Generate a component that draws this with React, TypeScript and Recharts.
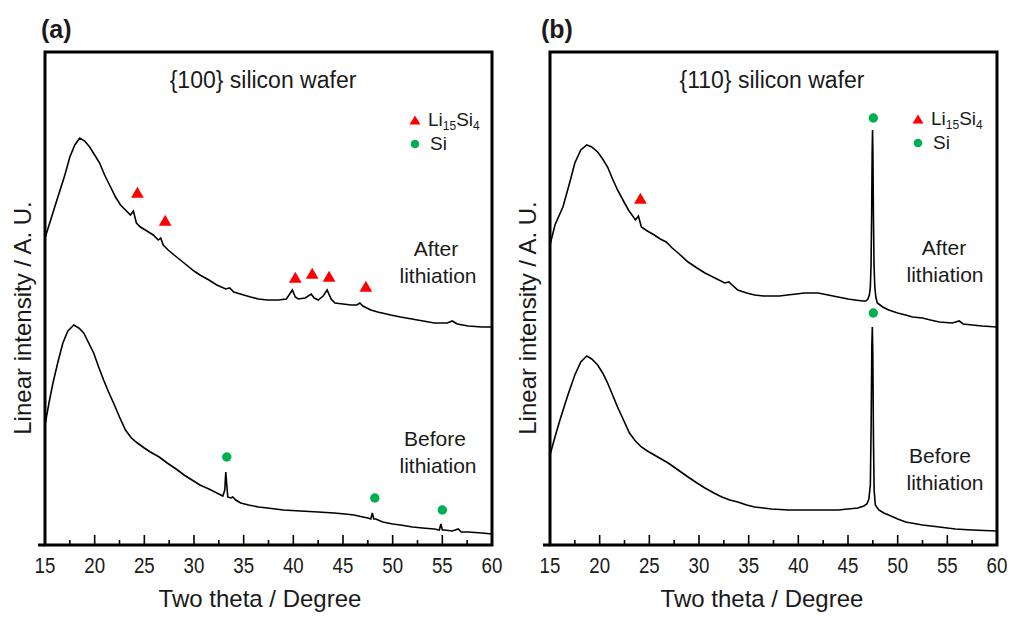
import React from "react";
import {
  ComposedChart,
  Line,
  Scatter,
  XAxis,
  YAxis,
  ZAxis,
  ReferenceArea,
} from "recharts";

// ---------- data (two theta in degrees, intensity in arbitrary units) ----------
const X_TICKS = [15, 17.5, 20, 22.5, 25, 27.5, 30, 32.5, 35, 37.5, 40, 42.5, 45, 47.5, 50, 52.5, 55, 57.5, 60];

const A_AFTER: [number, number][] = [
  [15, 307], [16.2, 345], [17.0, 370], [17.5, 388], [18.0, 400], [18.5, 407], [19.0, 404],
  [19.5, 398], [20.0, 390], [20.5, 382], [21.0, 370], [21.6, 358], [22.1, 348], [22.6, 340],
  [23.1, 335], [23.6, 330], [23.9, 334], [24.2, 322], [24.6, 318], [25.1, 315], [25.9, 310],
  [26.4, 305], [26.65, 307], [26.9, 300], [27.4, 295], [28.0, 290], [29.0, 282], [30.0, 274],
  [30.6, 270], [31.5, 265], [32.3, 260], [33.2, 256], [33.6, 257], [34.0, 253], [35.0, 250],
  [35.7, 248], [36.5, 246], [37.4, 245], [38.5, 245], [39.3, 246], [39.7, 252], [39.9, 255],
  [40.2, 248], [40.5, 246], [41.2, 247], [41.8, 251], [42.1, 247], [42.5, 245], [43.0, 249],
  [43.4, 255], [43.8, 246], [44.2, 242], [45.0, 241], [45.8, 240], [46.4, 240], [46.7, 242],
  [47.0, 239], [47.8, 235], [48.5, 233], [49.8, 230], [50.8, 228], [52.5, 225], [54.2, 222],
  [55.5, 222], [56.0, 224], [56.5, 221], [57.6, 219], [59.0, 218], [60, 218],
];

const A_BEFORE: [number, number][] = [
  [15, 120], [15.4, 142], [15.8, 162], [16.3, 183], [16.8, 202], [17.3, 214], [17.9, 220],
  [18.4, 217], [18.9, 212], [19.4, 202], [19.9, 192], [20.4, 178], [20.9, 165], [21.4, 153],
  [21.9, 142], [22.5, 128], [23.1, 115], [23.7, 107], [24.3, 102], [25.0, 97], [25.6, 93],
  [26.5, 88], [27.3, 82], [28.2, 76], [29.0, 70], [29.8, 65], [30.6, 60], [31.5, 56],
  [32.3, 52], [32.9, 49], [33.1, 55], [33.2, 73], [33.3, 60], [33.4, 48], [33.7, 47],
  [33.9, 48], [34.2, 45], [34.7, 42], [35.5, 40], [36.5, 38], [37.4, 37], [39.0, 35],
  [40.7, 34], [42.5, 33], [44.1, 32], [45.2, 31], [46.1, 30], [47.0, 28], [47.5, 27],
  [47.8, 26], [47.95, 32], [48.1, 26], [48.3, 26], [49.0, 23], [50.0, 21], [50.8, 20],
  [52.0, 18], [53.0, 17], [54.2, 16], [54.7, 15], [54.85, 21], [55.0, 15], [55.2, 15],
  [56.0, 14], [56.6, 16], [56.9, 13], [57.6, 13], [59.0, 12], [60, 11],
];

const B_AFTER: [number, number][] = [
  [15, 300], [15.5, 320], [16.3, 338], [17.0, 363], [17.5, 382], [18.1, 395], [18.7, 400],
  [19.2, 398], [19.8, 393], [20.3, 386], [20.8, 378], [21.3, 366], [21.8, 355], [22.4, 344],
  [22.9, 335], [23.6, 325], [23.9, 329], [24.2, 318], [24.8, 314], [25.5, 310], [26.1, 306],
  [26.7, 303], [27.3, 297], [27.9, 292], [28.9, 283], [29.8, 277], [30.6, 272], [31.6, 267],
  [32.6, 262], [33.0, 263], [33.9, 255], [34.8, 252], [35.6, 250], [36.5, 249], [37.3, 249],
  [38.1, 249], [38.9, 250], [39.8, 251], [40.6, 252], [41.3, 252], [42.0, 252], [43.0, 250],
  [44.0, 248], [45.0, 246], [45.7, 245], [46.5, 244], [46.8, 244], [47.0, 246], [47.15, 250],
  [47.25, 258], [47.32, 280], [47.38, 330], [47.43, 390], [47.47, 415], [47.51, 390],
  [47.56, 330], [47.62, 280], [47.7, 258], [47.8, 248], [47.95, 242], [48.5, 238],
  [49.1, 235], [50.0, 232], [50.8, 230], [51.5, 228], [52.5, 227], [53.3, 225], [54.2, 223],
  [55.5, 222], [56.2, 224], [56.6, 221], [57.5, 220], [58.5, 219], [60, 218],
];

const B_BEFORE: [number, number][] = [
  [15, 90], [15.5, 108], [16.0, 125], [16.8, 150], [17.5, 170], [18.1, 183], [18.7, 189],
  [19.2, 186], [19.8, 180], [20.3, 172], [20.8, 162], [21.3, 150], [21.8, 138], [22.4, 125],
  [23.0, 112], [23.6, 104], [24.2, 98], [24.8, 94], [25.5, 90], [26.2, 86], [26.9, 82],
  [27.9, 75], [28.9, 68], [29.8, 62], [30.6, 57], [31.5, 52], [32.3, 48], [33.1, 45],
  [33.9, 43], [34.8, 40], [35.6, 38], [36.5, 37], [37.3, 36], [39.0, 35], [40.6, 35],
  [42.5, 35], [44.0, 35], [45.0, 36], [46.0, 37], [46.6, 39], [46.9, 41], [47.1, 46],
  [47.25, 60], [47.33, 120], [47.4, 200], [47.45, 218], [47.5, 190], [47.56, 110],
  [47.63, 55], [47.75, 40], [48.1, 35], [48.6, 32], [49.1, 30], [50.0, 26], [50.8, 23],
  [52.5, 20], [54.2, 18], [55.8, 16], [57.5, 15], [60, 14],
];

const A_LI_MARKS: [number, number][] = [[24.3, 351], [27.1, 323], [40.2, 266], [41.9, 270], [43.6, 267], [47.3, 257]];
const A_SI_MARKS: [number, number][] = [[33.3, 88], [48.2, 47], [55.0, 35]];
const B_LI_MARKS: [number, number][] = [[24.1, 345]];
const B_SI_MARKS: [number, number][] = [[47.55, 427], [47.55, 232]];

const Y_MAX = 493;
const FONT = '"Liberation Sans", Arial, Helvetica, sans-serif';
const RED = "#ff0000";
const GREEN = "#00b050";

const toPts = (arr: [number, number][]) => arr.map(([x, y]) => ({ x, y }));

// custom tick: receives the axis line position as y (tickSize=0, tickMargin=0)
function renderXTick(props: any) {
  const { x, y, payload } = props;
  const v = payload.value as number;
  const major = Math.abs(v % 5) < 1e-9;
  return (
    <g key={`t-${v}`}>
      <line x1={x} x2={x} y1={y - 1} y2={y - (major ? 10 : 5)} stroke="#000" strokeWidth={1.6} />
      {major ? (
        <text
          x={0}
          y={0}
          transform={`translate(${x},${y + 28}) scale(0.85,1)`}
          textAnchor="middle"
          fontSize={22}
          fontFamily={FONT}
          fill="#1a1a1a"
        >
          {v}
        </text>
      ) : null}
    </g>
  );
}

type PanelProps = {
  left: number;
  width: number;
  after: [number, number][];
  before: [number, number][];
  li: [number, number][];
  si: [number, number][];
  rightMargin: number;
};

function Panel({ left, width, after, before, li, si, rightMargin }: PanelProps) {
  return (
    <div style={{ position: "absolute", left, top: 0, width, height: 619 }}>
      <ComposedChart
        width={width}
        height={619}
        margin={{ top: 52, right: rightMargin, left: 37, bottom: 44 }}
      >
        <XAxis
          dataKey="x"
          type="number"
          domain={[15, 60]}
          ticks={X_TICKS}
          interval={0}
          allowDataOverflow
          height={30}
          tickSize={0}
          tickMargin={0}
          tickLine={false}
          axisLine={false}
          tick={renderXTick}
        />
        <YAxis
          dataKey="y"
          type="number"
          domain={[0, Y_MAX]}
          ticks={[0]}
          interval={0}
          allowDataOverflow
          width={8}
          tickSize={7}
          tickMargin={0}
          axisLine={false}
          tickLine={{ stroke: "#000", strokeWidth: 3 }}
          tick={{ fontSize: 1, fill: "none" }}
          tickFormatter={() => " "}
        />
        <ZAxis range={[70, 70]} />
        <ReferenceArea x1={15} x2={60} y1={0} y2={Y_MAX} fill="none" stroke="#000" strokeWidth={3} />
        <Line data={toPts(after)} dataKey="y" type="linear" stroke="#000" strokeWidth={1.6} dot={false} isAnimationActive={false} />
        <Line data={toPts(before)} dataKey="y" type="linear" stroke="#000" strokeWidth={1.6} dot={false} isAnimationActive={false} />
        <Scatter data={toPts(li)} dataKey="y" shape="triangle" fill={RED} isAnimationActive={false} />
        <Scatter data={toPts(si)} dataKey="y" shape="circle" fill={GREEN} isAnimationActive={false} />
      </ComposedChart>
    </div>
  );
}

const txt = (style: React.CSSProperties): React.CSSProperties => ({
  position: "absolute",
  fontFamily: FONT,
  color: "#1a1a1a",
  whiteSpace: "nowrap",
  lineHeight: 1,
  ...style,
});

function Centered({ x, y, size, children, bold }: { x: number; y: number; size: number; children: React.ReactNode; bold?: boolean }) {
  return (
    <div style={txt({ left: x, top: y, fontSize: size, fontWeight: bold ? "bold" : "normal", transform: "translate(-50%,-50%)" })}>
      {children}
    </div>
  );
}

function LegendBox({ x, y }: { x: number; y: number }) {
  return (
    <div style={{ position: "absolute", left: x, top: y, width: 100, height: 50 }}>
      <svg width={14} height={14} style={{ position: "absolute", left: -7, top: -7 }}>
        <polygon points="7,2.5 12.5,11.5 1.5,11.5" fill={RED} />
      </svg>
      <svg width={14} height={14} style={{ position: "absolute", left: -7, top: 17 }}>
        <circle cx={7} cy={7} r={4.3} fill={GREEN} />
      </svg>
      <div style={txt({ left: 13, top: -10, fontSize: 19 })}>
        Li<sub style={{ fontSize: 12, verticalAlign: "-4px" }}>15</sub>Si<sub style={{ fontSize: 12, verticalAlign: "-4px" }}>4</sub>
      </div>
      <div style={txt({ left: 15, top: 14, fontSize: 19 })}>Si</div>
    </div>
  );
}

function YLabel({ x, y }: { x: number; y: number }) {
  return (
    <div style={txt({ left: x, top: y, fontSize: 24, transform: "translate(-50%,-50%) rotate(-90deg)" })}>
      Linear intensity / A. U.
    </div>
  );
}

export default function App() {
  return (
    <div style={{ position: "absolute", left: 0, top: 0, width: 1014, height: 619, background: "#fff", overflow: "hidden" }}>
      <Panel left={0} width={507} after={A_AFTER} before={A_BEFORE} li={A_LI_MARKS} si={A_SI_MARKS} rightMargin={15} />
      <Panel left={505} width={509} after={B_AFTER} before={B_BEFORE} li={B_LI_MARKS} si={B_SI_MARKS} rightMargin={17} />

      <div style={txt({ left: 41, top: 17, fontSize: 25, fontWeight: "bold" })}>(a)</div>
      <div style={txt({ left: 541, top: 17, fontSize: 25, fontWeight: "bold" })}>(b)</div>

      <Centered x={263} y={80} size={23}>{"{100} silicon wafer"}</Centered>
      <Centered x={772} y={80} size={23}>{"{110} silicon wafer"}</Centered>

      <LegendBox x={415} y={120} />
      <LegendBox x={918} y={119} />

      <Centered x={436} y={248} size={21}>After</Centered>
      <Centered x={438} y={275} size={21}>lithiation</Centered>
      <Centered x={435} y={438} size={21}>Before</Centered>
      <Centered x={438} y={465} size={21}>lithiation</Centered>

      <Centered x={944} y={247} size={21}>After</Centered>
      <Centered x={945} y={274} size={21}>lithiation</Centered>
      <Centered x={940} y={455} size={21}>Before</Centered>
      <Centered x={945} y={482} size={21}>lithiation</Centered>

      <Centered x={260} y={599} size={24}>Two theta / Degree</Centered>
      <Centered x={762} y={599} size={24}>Two theta / Degree</Centered>

      <YLabel x={23} y={318} />
      <YLabel x={528} y={318} />
    </div>
  );
}
